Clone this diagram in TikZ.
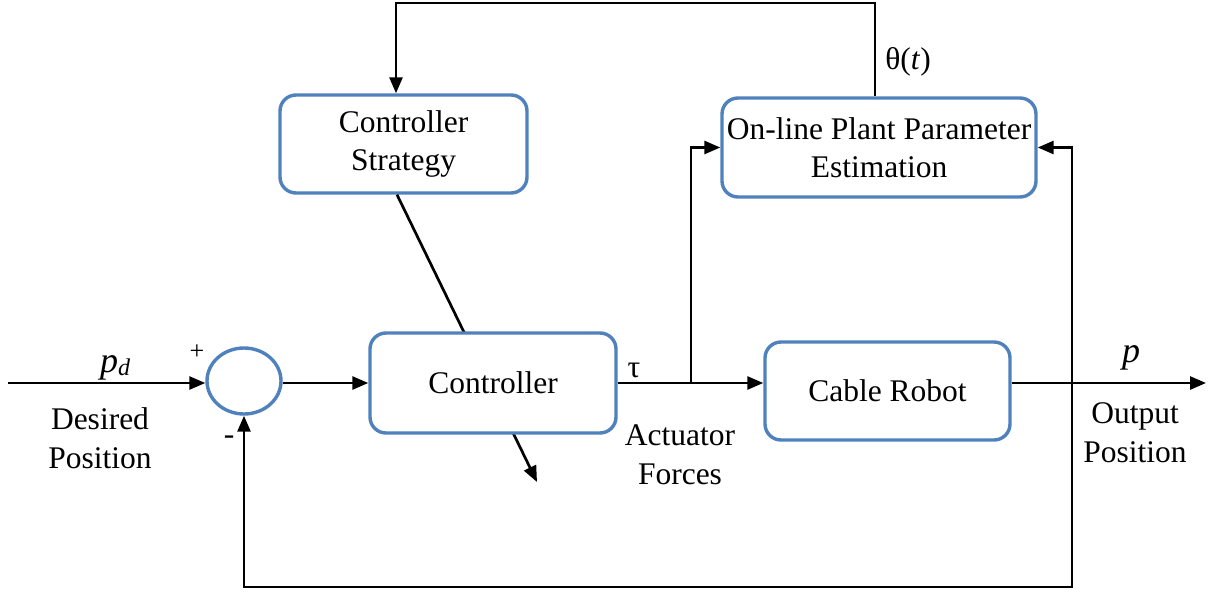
\documentclass[tikz,border=0pt]{standalone}
\usepackage{fontspec}
\setmainfont{Liberation Serif}
\usetikzlibrary{arrows.meta,shapes.geometric,calc}
\definecolor{boxblue}{HTML}{4F81BD}
\begin{document}
\begin{tikzpicture}[x=1pt,y=-1pt,
  blk/.style={draw=boxblue,line width=3.4pt,rounded corners=16pt,fill=white,align=center,inner sep=0pt,font=\fontsize{31.5}{38}\selectfont},
  conn/.style={line width=2.7pt,-{Triangle[length=16pt,width=13pt]}},
  lbl/.style={align=center,inner sep=0pt,font=\fontsize{31.5}{39}\selectfont}]
\useasboundingbox (0,0) rectangle (1214,594);
\node[blk,minimum width=247pt,minimum height=98pt] (strat) at (403.5,144) {Controller\\Strategy};
\coordinate (adaptend) at (537,482);
\draw[conn] (strat.south -| 397,0) -- (adaptend);
\node[blk,minimum width=246pt,minimum height=100pt] (ctrl) at (493,383) {Controller};
\node[blk,minimum width=314pt,minimum height=99pt] (est) at (879,147.5) {On-line Plant Parameter\\Estimation};
\node[blk,minimum width=245pt,minimum height=98pt] (robot) at (887.5,391) {Cable Robot};
\node[draw=boxblue,line width=3.4pt,ellipse,minimum width=74pt,minimum height=66pt,inner sep=0pt] (sum) at (244,381) {};
\coordinate (in) at (8,383);
\coordinate (br1) at (691,383);
\coordinate (br2) at (1072,383);
\coordinate (out) at (1206,383);
\coordinate (bot) at (1072,587);
\coordinate (top) at (875,3);
\draw[conn] (in) -- (in -| sum.west);
\draw[conn] (sum.east |- ctrl.west) -- (ctrl.west);
\draw[conn] (ctrl.east) -- (ctrl.east -| robot.west);
\draw[conn] (br1) |- (est.west);
\draw[conn] (robot.east |- br2) -- (out);
\draw[conn] (br2) |- (est.east);
\draw[conn] (br2) -- (bot) -| (sum.south);
\draw[conn] (est.north -| top) -- (top) -| (strat.north -| 396,0);
\node[lbl] (pd) at (115,368) {\fontsize{36}{36}\selectfont\itshape p\raisebox{-3pt}{\fontsize{24}{24}\selectfont d}};
\node[lbl] (plus) at (197,352) {\fontsize{26}{26}\selectfont +};
\node[lbl] (minus) at (229,440) {-};
\node[lbl] (desired) at (100,438) {Desired\\Position};
\node[lbl] (tau) at (634,370) {τ};
\node[lbl] (act) at (680,455) {Actuator\\Forces};
\node[lbl] (theta) at (908,62) {θ(\textit{t})};
\node[lbl] (p) at (1131,358) {\fontsize{36}{36}\selectfont\itshape p};
\node[lbl] (outpos) at (1135,433) {Output\\Position};
\end{tikzpicture}
\end{document}
